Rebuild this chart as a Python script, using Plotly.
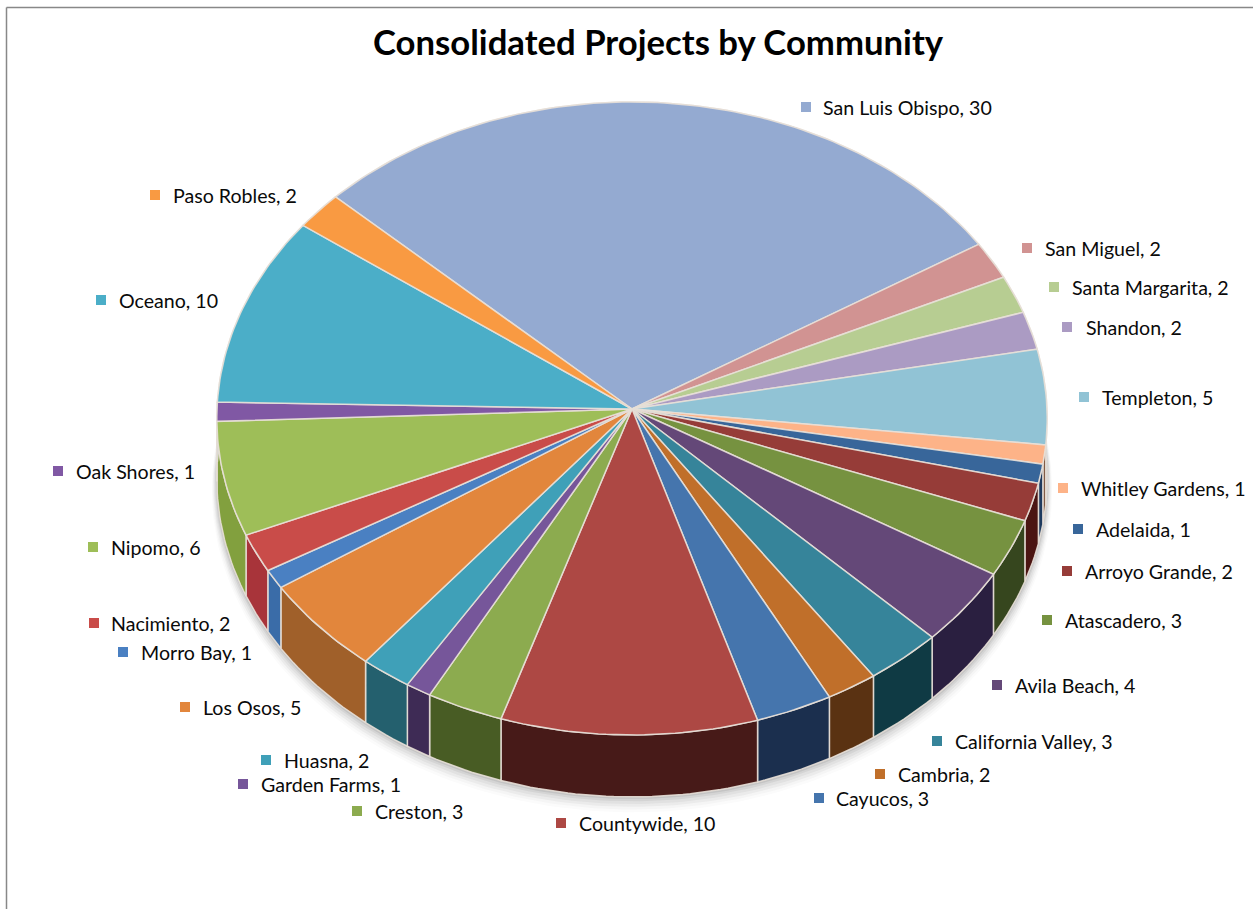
import math
import plotly.graph_objects as go

# Projects per community, clockwise from the top-left of the pie
communities = ["San Luis Obispo", "San Miguel", "Santa Margarita", "Shandon", "Templeton",
               "Whitley Gardens", "Adelaida", "Arroyo Grande", "Atascadero", "Avila Beach",
               "California Valley", "Cambria", "Cayucos", "Countywide", "Creston",
               "Garden Farms", "Huasna", "Los Osos", "Morro Bay", "Nacimiento",
               "Nipomo", "Oak Shores", "Oceano", "Paso Robles"]
projects = [30, 2, 2, 2, 5, 1, 1, 2, 3, 4, 3, 2, 3, 10, 3, 1, 2, 5, 1, 2, 6, 1, 10, 2]

top_colors = ["#94AAD1", "#D19392", "#B7CD92", "#AB9BC3", "#91C3D5", "#FDB388", "#38669A", "#963C38",
              "#769240", "#644878", "#36849A", "#C06F2A", "#4575AD", "#AD4844", "#8CAB4F", "#76569A",
              "#3FA0B8", "#E2863C", "#4A80C2", "#C94C49", "#9EBE58", "#8058A4", "#4BAEC8", "#F99A42"]
wall_colors = ["#5A6A88", "#7A5050", "#6A7A50", "#605478", "#50768A", "#7F5A44", "#1E3A5E", "#4B1512",
               "#36461E", "#2A1F40", "#0F3A44", "#5A3212", "#1B2F4E", "#471A18", "#485C24", "#3E2B55",
               "#24606E", "#A0602A", "#3A6CA8", "#A8343A", "#82A03E", "#50366A", "#2A7088", "#A06020"]

# Left end of each label: marker centre x, marker centre y, text start x, text centre y
label_spots = [(806, 107, 821, 107), (1027, 248, 1043, 248), (1054, 287, 1070, 287), (1067, 327, 1084, 327),
               (1084, 397, 1100, 397), (1063, 488, 1079, 488), (1078, 529, 1094, 529), (1067, 571, 1083, 571),
               (1047, 620, 1063, 620), (997, 685, 1013, 685), (937, 741, 953, 741), (880, 774, 896, 774),
               (819, 798, 834, 798), (561, 823, 577, 823), (357, 811, 373, 811), (243, 784, 259, 784),
               (266, 760, 282, 760), (185, 707, 201, 707), (123, 652, 139, 652), (94, 623, 109, 623),
               (93, 547, 109, 547), (58, 471, 74, 471), (101, 300, 117, 300), (155, 195, 171, 195)]

# Perspective camera settings for the tilted disc
CX, CY = 632.0, 409.0
RX, RY = 415.0, 316.2
PERSP = 0.03
DEPTH = 60.0
START_DEG = 313.2
EDGE = "rgba(232,224,216,0.9)"


def project(deg, radius=1.0, drop=0.0):
    """Map a disc angle (clockwise from the far side) and a height drop to chart coordinates."""
    a = math.radians(deg)
    u, v = radius * math.sin(a), radius * math.cos(a)
    w = 1 + PERSP * v
    return CX + RX * u / w, CY - RY * v / w + drop / w


def arc(a0, a1, drop=0.0, radius=1.0):
    steps = max(4, int(abs(a1 - a0) / 1.0))
    return [project(a0 + (a1 - a0) * i / steps, radius, drop) for i in range(steps + 1)]


def polygon(points, fill, name, line=EDGE, width=1.5):
    return go.Scatter(x=[p[0] for p in points], y=[p[1] for p in points], mode="lines", fill="toself",
                      fillcolor=fill, line=dict(color=line, width=width), name=name,
                      hoverinfo="skip", showlegend=False)


total = sum(projects)
bounds = [START_DEG]
for value in projects:
    bounds.append(bounds[-1] + 360.0 * value / total)

fig = go.Figure()

# Soft drop shadow under the disc
for grow, extra, alpha in [(1.012, 11, 0.02), (1.010, 9, 0.03), (1.008, 7, 0.05), (1.006, 5, 0.06),
                           (1.004, 3, 0.08), (1.002, 1.5, 0.10)]:
    ring = arc(0, 360, DEPTH + extra, grow)
    fig.add_trace(polygon(ring, f"rgba(60,60,60,{alpha})", "shadow", line="rgba(0,0,0,0)", width=0))

# Outer wall of each slice
for i, name in enumerate(communities):
    upper = arc(bounds[i], bounds[i + 1])
    lower = arc(bounds[i], bounds[i + 1], DEPTH)
    fig.add_trace(polygon(upper + lower[::-1] + upper[:1], wall_colors[i], name + " wall"))

# Top face of each slice
for i, name in enumerate(communities):
    face = [(CX, CY)] + arc(bounds[i], bounds[i + 1]) + [(CX, CY)]
    fig.add_trace(polygon(face, top_colors[i], name))

# Label markers
fig.add_trace(go.Scatter(x=[s[0] for s in label_spots], y=[s[1] for s in label_spots], mode="markers",
                         marker=dict(symbol="square", size=10, color=top_colors, line=dict(width=0)),
                         hoverinfo="skip", showlegend=False))

annotations = [dict(x=s[2], y=s[3], text=f"{n}, {v}", showarrow=False, xanchor="left", yanchor="middle",
                    xref="x", yref="y", font=dict(family="Lato", size=19.6, color="#0A0A0A"))
               for n, v, s in zip(communities, projects, label_spots)]
annotations.append(dict(x=658.5, y=41, text="<b>Consolidated Projects by Community</b>", showarrow=False,
                        xanchor="center", yanchor="middle", xref="x", yref="y",
                        font=dict(family="Lato", size=34.7, color="#000000")))

fig.update_layout(
    width=1253, height=909, autosize=False, margin=dict(l=0, r=0, t=0, b=0),
    paper_bgcolor="white", plot_bgcolor="white",
    xaxis=dict(range=[0, 1253], visible=False, fixedrange=True),
    yaxis=dict(range=[909, 0], visible=False, fixedrange=True),
    annotations=annotations,
    shapes=[dict(type="line", x0=6.5, x1=6.5, y0=7.5, y1=909, line=dict(color="#888888", width=1.5)),
            dict(type="line", x0=6.5, x1=1253, y0=7.5, y1=7.5, line=dict(color="#888888", width=1.5))],
)

fig.write_html("out.html")
